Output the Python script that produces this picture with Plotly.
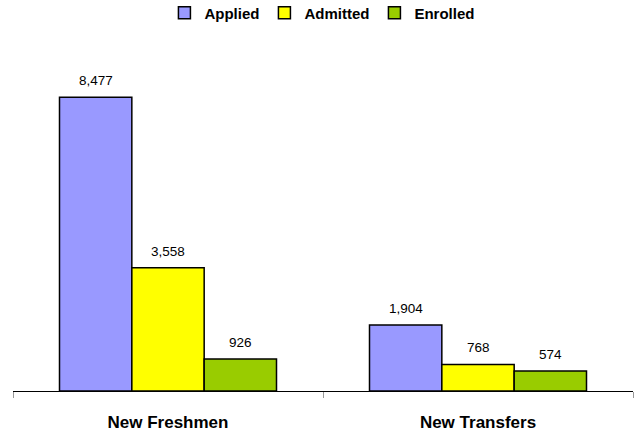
import plotly.graph_objects as go

categories = ["New Freshmen", "New Transfers"]
series_names = ["Applied", "Admitted", "Enrolled"]
applied = [8477, 1904]
admitted = [3558, 768]
enrolled = [926, 574]
colors = ["#9999FF", "#FFFF00", "#99CC00"]

series = [applied, admitted, enrolled]
bargap = 0.3
n = len(series)
bw = (1 - bargap) / n

fig = go.Figure()
for name, vals, col in zip(series_names, series, colors):
    fig.add_trace(go.Bar(
        name=name, x=categories, y=vals,
        marker=dict(color=col, line=dict(color="#000000", width=1.5)),
    ))

annotations = []
for ci, cat in enumerate(categories):
    for si, vals in enumerate(series):
        annotations.append(dict(
            x=ci + (si - (n - 1) / 2) * bw, y=vals[ci], xref="x", yref="y",
            text=f"{vals[ci]:,}", showarrow=False, yanchor="bottom", yshift=7,
            font=dict(family="Liberation Sans, Arial", size=13.5, color="#000000"),
        ))

fig.update_layout(
    width=641, height=432,
    barmode="group", bargap=bargap, bargroupgap=0,
    margin=dict(l=13, r=8, t=79, b=41),
    paper_bgcolor="#FFFFFF", plot_bgcolor="#FFFFFF",
    font=dict(family="Liberation Sans, Arial", color="#000000"),
    showlegend=True,
    annotations=annotations,
    legend=dict(orientation="h", xref="container", yref="container",
                x=0.503, y=0.97, xanchor="center", yanchor="middle",
                font=dict(size=15, family="Liberation Sans, Arial", weight="bold"),
                itemwidth=30, tracegroupgap=0),
    xaxis=dict(showline=True, linecolor="#000000", linewidth=1, automargin=False,
               ticks="outside", tickson="boundaries", ticklen=6, tickcolor="#999999",
               tickfont=dict(size=17, family="Liberation Sans, Arial", weight="bold"),
               ticklabelstandoff=16, showgrid=False, zeroline=False),
    yaxis=dict(visible=False, range=[0, 9000], showgrid=False, zeroline=False, automargin=False),
)

fig.write_html("out.html", config={"displayModeBar": False},
               post_script="document.body.style.margin='0';")
